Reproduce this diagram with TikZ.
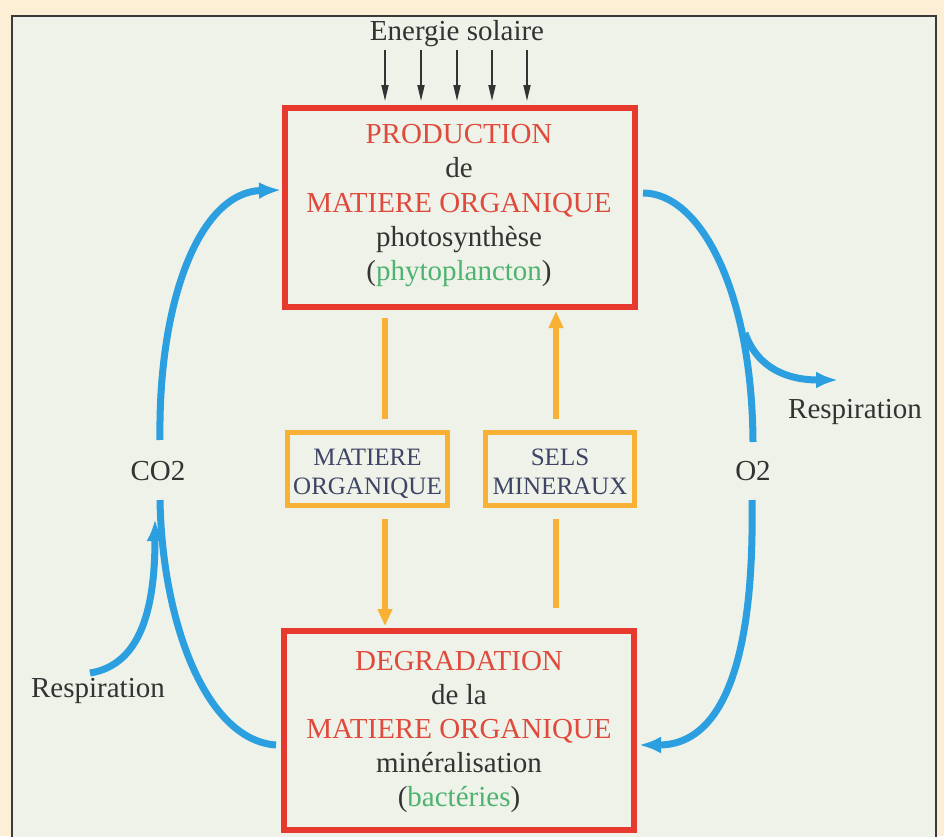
\documentclass[tikz,border=0pt]{standalone}
\usepackage{fontspec}
\setmainfont{Liberation Serif}
\usetikzlibrary{arrows.meta}
\definecolor{bgc}{HTML}{FDEED6}
\definecolor{panelc}{HTML}{EEF2E8}
\definecolor{framec}{HTML}{3A3A3A}
\definecolor{redb}{HTML}{E8392F}
\definecolor{redt}{HTML}{E04A3C}
\definecolor{orng}{HTML}{F8B134}
\definecolor{bluec}{HTML}{2B9FE0}
\definecolor{greent}{HTML}{4DB36F}
\definecolor{darkt}{HTML}{333333}
\definecolor{slatet}{HTML}{3E4466}
\tikzset{
  redbox/.style={draw=redb, line width=6pt, minimum width=350pt, minimum height=199pt, inner sep=0pt},
  orgbox/.style={draw=orng, line width=5.5pt, minimum height=73pt, inner sep=0pt},
  bigtxt/.style={font=\fontsize{29}{34}\selectfont, anchor=base, inner sep=0pt, text=darkt},
  smalltxt/.style={font=\fontsize{25}{28}\selectfont, anchor=base, inner sep=0pt, text=slatet},
  blueline/.style={draw=bluec, line width=7pt},
  bluearr/.style={blueline, -{Latex[length=22pt,width=17pt]}},
  orgline/.style={draw=orng, line width=5.5pt},
  orgarr/.style={orgline, -{Triangle[length=17pt,width=14pt]}},
  sunarr/.style={draw=darkt, line width=1.8pt, -{Triangle[length=16pt,width=7pt]}}
}
\begin{document}
\begin{tikzpicture}[x=1pt,y=-1pt]
\useasboundingbox (0,0) rectangle (944,836);
\fill[bgc] (0,0) rectangle (944,836);
\filldraw[fill=panelc, draw=framec, line width=1.5pt] (12,850) -- (12,16) -- (936,16) -- (936,850);

% title and sun arrows
\node[bigtxt] (sun) at (457,40) {Energie solaire};
\foreach \x [count=\i] in {385,421,457,492,527} {
  \coordinate (s\i) at (\x,50);
  \coordinate (e\i) at (\x,101);
  \draw[sunarr] (s\i) -- (e\i);
}

% boxes
\node[redbox] (prod) at (459.5,207.5) {};
\node[redbox] (degr) at (459,730) {};
\node[orgbox, minimum width=160pt] (mo) at (367.5,469) {};
\node[orgbox, minimum width=149pt] (sm) at (560,469) {};

% top box text
\node[bigtxt, text=redt] (t1) at (459,143) {PRODUCTION};
\node[bigtxt] (t2) at (459,177) {de};
\node[bigtxt, text=redt] (t3) at (459,212) {MATIERE ORGANIQUE};
\node[bigtxt] (t4) at (459,246) {photosynthèse};
\node[bigtxt] (t5) at (459,280) {(\textcolor{greent}{phytoplancton})};

% bottom box text
\node[bigtxt, text=redt] (b1) at (459,670) {DEGRADATION};
\node[bigtxt] (b2) at (459,704) {de la};
\node[bigtxt, text=redt] (b3) at (459,738) {MATIERE ORGANIQUE};
\node[bigtxt] (b4) at (459,772) {minéralisation};
\node[bigtxt] (b5) at (459,806) {(\textcolor{greent}{bactéries})};

% small boxes text
\node[smalltxt] (mo1) at (367.5,465) {MATIERE};
\node[smalltxt] (mo2) at (367.5,494) {ORGANIQUE};
\node[smalltxt] (sm1) at (560,465) {SELS};
\node[smalltxt] (sm2) at (560,494) {MINERAUX};

% side labels
\node[bigtxt] (co2) at (158,480) {CO2};
\node[bigtxt] (o2) at (753,480) {O2};
\node[bigtxt] (respr) at (855,418) {Respiration};
\node[bigtxt] (respl) at (98,697) {Respiration};

% orange connectors
\coordinate (oa1) at (385,318);
\coordinate (oa2) at (385,419);
\coordinate (oa3) at (385,519);
\coordinate (oa4) at (385,626);
\coordinate (ob1) at (556,608);
\coordinate (ob2) at (556,519);
\coordinate (ob3) at (556,419);
\coordinate (ob4) at (556,311);
\draw[orgline] (oa1) -- (oa2);
\draw[orgarr] (oa3) -- (oa4);
\draw[orgline] (ob1) -- (ob2);
\draw[orgarr] (ob3) -- (ob4);

% blue connectors
\coordinate (c1) at (160,440);
\coordinate (c2) at (281,190);
\coordinate (c3) at (276,745);
\coordinate (c4) at (160,500);
\coordinate (r1) at (90,673);
\coordinate (r2) at (155,519);
\coordinate (d1) at (643,193);
\coordinate (d2) at (753,442);
\coordinate (d3) at (745,333);
\coordinate (d4) at (838,380);
\coordinate (d5) at (752,500);
\coordinate (d6) at (639,745);
\draw[bluearr] (c1) .. controls (158,300) and (200,192) .. (c2);
\draw[blueline] (c3) .. controls (205,740) and (162,620) .. (c4);
\draw[bluearr] (r1) .. controls (140,665) and (155,610) .. (r2);
\draw[blueline] (d1) .. controls (700,193) and (752,290) .. (d2);
\draw[bluearr] (d3) .. controls (758,370) and (790,380) .. (d4);
\draw[bluearr] (d5) .. controls (755,690) and (710,745) .. (d6);
\end{tikzpicture}
\end{document}
